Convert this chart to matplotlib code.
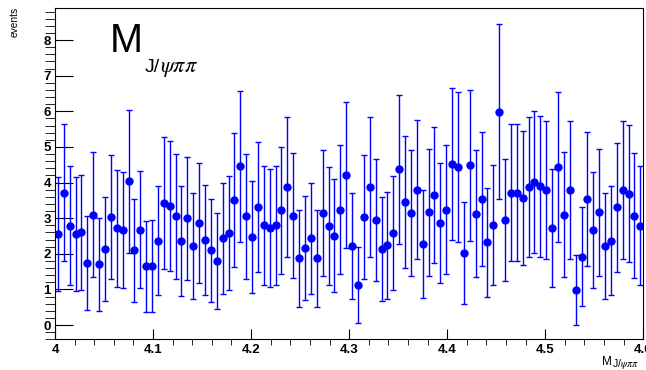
import numpy as np
import matplotlib
matplotlib.use("Agg")
from matplotlib import pyplot as plt
from matplotlib.ticker import MultipleLocator, FuncFormatter

# histogram binning (100 bins between 4.0 and 4.6)
x_lo, x_hi, n_bins = 4.0, 4.6, 100

counts = [2.55, 3.72, 2.78, 2.55, 2.60, 1.75, 3.10, 1.70, 2.14, 3.02,
          2.71, 2.66, 4.03, 2.10, 2.68, 1.65, 1.67, 2.37, 3.42, 3.34,
          3.05, 2.36, 3.00, 2.22, 2.86, 2.39, 2.10, 1.80, 2.44, 2.58,
          3.51, 4.45, 3.05, 2.48, 3.31, 2.80, 2.72, 2.80, 3.22, 3.88,
          3.07, 1.87, 2.16, 2.43, 1.87, 3.15, 2.77, 2.51, 3.24, 4.22,
          2.21, 1.13, 3.02, 3.88, 2.94, 2.14, 2.24, 2.58, 4.37, 3.45,
          3.15, 3.80, 2.28, 3.16, 3.66, 2.87, 3.24, 4.52, 4.43, 2.02,
          4.49, 3.13, 3.54, 2.33, 2.81, 5.99, 2.95, 3.72, 3.72, 3.57,
          3.87, 4.02, 3.89, 3.79, 2.72, 4.43, 3.10, 3.79, 0.99, 1.92,
          3.54, 2.66, 3.16, 2.22, 2.37, 3.30, 3.79, 3.69, 3.07, 2.78]

errors = [1.60, 1.93, 1.67, 1.60, 1.61, 1.32, 1.76, 1.30, 1.46, 1.74,
          1.65, 1.63, 2.01, 1.45, 1.64, 1.28, 1.29, 1.54, 1.85, 1.83,
          1.75, 1.54, 1.73, 1.49, 1.69, 1.55, 1.45, 1.34, 1.56, 1.61,
          1.87, 2.11, 1.75, 1.57, 1.82, 1.67, 1.65, 1.67, 1.79, 1.97,
          1.75, 1.37, 1.47, 1.56, 1.37, 1.77, 1.66, 1.58, 1.80, 2.05,
          1.49, 1.06, 1.74, 1.97, 1.71, 1.46, 1.50, 1.61, 2.09, 1.86,
          1.77, 1.95, 1.51, 1.78, 1.91, 1.69, 1.80, 2.13, 2.10, 1.42,
          2.12, 1.77, 1.88, 1.53, 1.68, 2.45, 1.72, 1.93, 1.93, 1.89,
          1.97, 2.00, 1.97, 1.95, 1.65, 2.10, 1.76, 1.95, 0.99, 1.39,
          1.88, 1.63, 1.78, 1.49, 1.54, 1.82, 1.95, 1.92, 1.75, 1.67]

edges = np.linspace(x_lo, x_hi, n_bins + 1)
centers = 0.5 * (edges[:-1] + edges[1:])

W, H = 646, 370
font = "Liberation Sans"


def px(x, y):
    # pixel position -> figure fraction
    return x / W, 1 - y / H


fig = plt.figure(figsize=(W / 100, H / 100), dpi=100)
ax = fig.add_axes([55 / W, 1 - 339.3 / H, (643.3 - 55) / W, (339.3 - 8.3) / H])

ax.errorbar(centers, counts, yerr=errors, fmt="o", color="#0000ff",
            ms=5, elinewidth=1.0, capsize=2, capthick=1.0)

ax.set_xlim(x_lo, x_hi)
ax.set_ylim(-0.40, 8.89)

ax.xaxis.set_major_locator(MultipleLocator(0.1))
ax.xaxis.set_minor_locator(MultipleLocator(0.02))
ax.yaxis.set_major_locator(MultipleLocator(1))
ax.yaxis.set_minor_locator(MultipleLocator(0.2))
ax.xaxis.set_major_formatter(FuncFormatter(lambda v, p: "%g" % round(v, 3)))
ax.yaxis.set_major_formatter(FuncFormatter(lambda v, p: "%g" % v))

ax.tick_params(direction="in", top=False, right=False, width=0.8, color="black")
ax.tick_params(axis="y", which="major", length=13, pad=3)
ax.tick_params(axis="y", which="minor", length=7.5)
ax.tick_params(axis="x", which="major", length=7, pad=3.5)
ax.tick_params(axis="x", which="minor", length=4.3)
for lab in ax.get_xticklabels() + ax.get_yticklabels():
    lab.set_fontfamily(font)
    lab.set_fontsize(9.5)
    lab.set_fontweight("bold")

for s in ax.spines.values():
    s.set_linewidth(0.8)

# big title
fig.text(*px(110, 51.7), "M", fontsize=28.5, family=font, va="baseline", ha="left")
fig.text(*px(145, 72.3), "J/", fontsize=14, family=font, va="baseline", ha="left")
fig.text(*px(160, 72.3), r"$\psi\pi\pi$", fontsize=16,
         va="baseline", ha="left", math_fontfamily="stix")

# axis titles
fig.text(*px(612, 365), "M", fontsize=8.5, family=font, va="baseline", ha="right")
fig.text(*px(612.5, 367), r"J/$\psi\pi\pi$", fontsize=7.5, family=font,
         va="baseline", ha="left", math_fontfamily="stix")
fig.text(*px(14.5, 7), "events", fontsize=7.3, family=font, rotation=90,
         va="top", ha="center")

fig.savefig("out.png", dpi=100)
